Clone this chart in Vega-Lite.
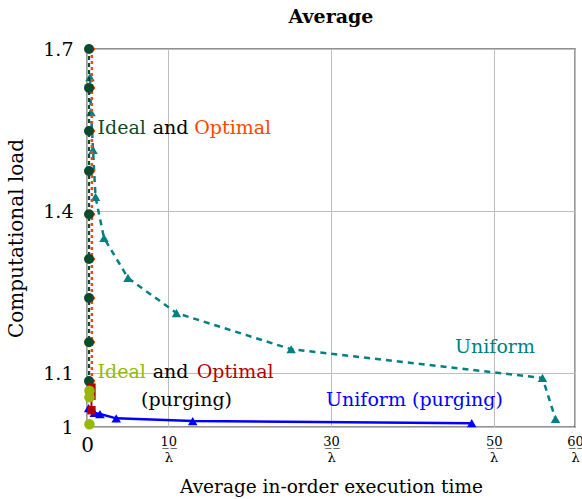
{
  "$schema": "https://vega.github.io/schema/vega-lite/v6.json",
  "width": 488,
  "height": 378,
  "autosize": {"type": "none"},
  "padding": {"left": 87, "top": 49, "right": 7, "bottom": 72},
  "config": {
    "font": "DejaVu Serif",
    "view": {"stroke": "#222222", "strokeWidth": 1.3},
    "axis": {"domain": false, "ticks": false, "grid": true, "gridColor": "#bdbdbd", "gridWidth": 1, "labelColor": "black", "titleColor": "black", "labelFont": "DejaVu Serif", "titleFont": "DejaVu Serif", "titleFontWeight": "normal"}
  },
  "title": {"text": "Average", "font": "DejaVu Serif", "fontSize": 19, "fontWeight": "bold", "color": "black", "offset": 13, "frame": "group", "anchor": "middle"},
  "datasets": {
    "pts": [
      {"s": "Ideal", "i": 1, "x": 0.25, "y": 1.7},
      {"s": "Ideal", "i": 2, "x": 0.25, "y": 1.628},
      {"s": "Ideal", "i": 3, "x": 0.25, "y": 1.548},
      {"s": "Ideal", "i": 4, "x": 0.25, "y": 1.474},
      {"s": "Ideal", "i": 5, "x": 0.25, "y": 1.394},
      {"s": "Ideal", "i": 6, "x": 0.25, "y": 1.311},
      {"s": "Ideal", "i": 7, "x": 0.25, "y": 1.239},
      {"s": "Ideal", "i": 8, "x": 0.25, "y": 1.157},
      {"s": "Ideal", "i": 9, "x": 0.25, "y": 1.085},
      {"s": "Optimal", "i": 1, "x": 0.6, "y": 1.7},
      {"s": "Optimal", "i": 2, "x": 0.6, "y": 1.628},
      {"s": "Optimal", "i": 3, "x": 0.6, "y": 1.548},
      {"s": "Optimal", "i": 4, "x": 0.6, "y": 1.474},
      {"s": "Optimal", "i": 5, "x": 0.6, "y": 1.394},
      {"s": "Optimal", "i": 6, "x": 0.6, "y": 1.311},
      {"s": "Optimal", "i": 7, "x": 0.6, "y": 1.239},
      {"s": "Optimal", "i": 8, "x": 0.6, "y": 1.157},
      {"s": "Optimal", "i": 9, "x": 0.6, "y": 1.085},
      {"s": "Uniform", "i": 1, "x": 0.37, "y": 1.648},
      {"s": "Uniform", "i": 2, "x": 0.49, "y": 1.583},
      {"s": "Uniform", "i": 3, "x": 0.74, "y": 1.513},
      {"s": "Uniform", "i": 4, "x": 1.05, "y": 1.426},
      {"s": "Uniform", "i": 5, "x": 2.09, "y": 1.35},
      {"s": "Uniform", "i": 6, "x": 5.04, "y": 1.276},
      {"s": "Uniform", "i": 7, "x": 11.0, "y": 1.211},
      {"s": "Uniform", "i": 8, "x": 25.1, "y": 1.144},
      {"s": "Uniform", "i": 9, "x": 56.0, "y": 1.091},
      {"s": "Uniform", "i": 10, "x": 57.6, "y": 1.015},
      {"s": "Ideal (purging)", "i": 1, "x": 0.3, "y": 1.067},
      {"s": "Ideal (purging)", "i": 2, "x": 0.3, "y": 1.055},
      {"s": "Ideal (purging)", "i": 3, "x": 0.3, "y": 1.005},
      {"s": "Optimal (purging)", "i": 1, "x": 0.55, "y": 1.073},
      {"s": "Optimal (purging)", "i": 2, "x": 0.55, "y": 1.058},
      {"s": "Optimal (purging)", "i": 3, "x": 0.55, "y": 1.031},
      {"s": "Uniform (purging)", "i": 1, "x": 0.2, "y": 1.035},
      {"s": "Uniform (purging)", "i": 2, "x": 0.9, "y": 1.026},
      {"s": "Uniform (purging)", "i": 3, "x": 1.6, "y": 1.024},
      {"s": "Uniform (purging)", "i": 4, "x": 3.6, "y": 1.016},
      {"s": "Uniform (purging)", "i": 5, "x": 13.0, "y": 1.011},
      {"s": "Uniform (purging)", "i": 6, "x": 47.3, "y": 1.007}
    ],
    "labels": [
      {"t": "Ideal", "g": "Ideal", "x": 1.3, "y": 1.554},
      {"t": "and", "g": "plain", "x": 8.08, "y": 1.554},
      {"t": "Optimal", "g": "Optimal", "x": 13.19, "y": 1.554},
      {"t": "Ideal", "g": "Ideal (purging)", "x": 1.3, "y": 1.102},
      {"t": "and", "g": "plain", "x": 8.08, "y": 1.102},
      {"t": "Optimal", "g": "Optimal (purging)", "x": 13.49, "y": 1.102},
      {"t": "(purging)", "g": "plain", "x": 6.64, "y": 1.05},
      {"t": "Uniform (purging)", "g": "Uniform (purging)", "x": 29.39, "y": 1.05},
      {"t": "Uniform", "g": "Uniform", "x": 45.25, "y": 1.148}
    ]
  },
  "encoding": {
    "x": {"field": "x", "type": "quantitative", "scale": {"domain": [0, 60], "nice": false, "zero": false},
      "axis": {"values": [0, 10, 30, 50, 60], "labelFlush": false, "title": "Average in-order execution time", "titleFontSize": 18.5, "titlePadding": 13, "labelPadding": 8, "labelLineHeight": 16, "labelBaseline": "top", "labelFontSize": {"condition": {"test": "datum.value == 0", "value": 20}, "value": 13},
        "labelExpr": "datum.value == 0 ? '0' : datum.value == 10 ? ['1\u03320\u0332', 'λ'] : datum.value == 30 ? ['3\u03320\u0332', 'λ'] : datum.value == 50 ? ['5\u03320\u0332', 'λ'] : ['6\u03320\u0332', 'λ']"}},
    "y": {"field": "y", "type": "quantitative", "scale": {"domain": [1, 1.7], "nice": false, "zero": false},
      "axis": {"values": [1, 1.1, 1.4, 1.7], "format": "~g", "title": "Computational load", "titleFontSize": 20, "titlePadding": 16, "labelFontSize": 19, "labelPadding": 14}},
    "color": {"field": "s", "type": "nominal", "legend": null,
      "scale": {"domain": ["Ideal", "Optimal", "Uniform", "Ideal (purging)", "Optimal (purging)", "Uniform (purging)", "plain"],
        "range": ["#0b4a2b", "#ff4500", "#008080", "#95b80b", "#b00000", "#0000ff", "#000000"]}}
  },
  "layer": [
    {"transform": [{"filter": "datum.s == 'Uniform'"}], "data": {"name": "pts"}, "mark": {"type": "line", "strokeDash": [6, 5], "strokeWidth": 2.5, "clip": false}, "encoding": {"order": {"field": "i"}}},
    {"transform": [{"filter": "datum.s == 'Uniform'"}], "data": {"name": "pts"}, "mark": {"type": "point", "shape": "triangle-up", "filled": true, "size": 90, "opacity": 1, "clip": false}},
    {"transform": [{"filter": "datum.s == 'Uniform (purging)'"}], "data": {"name": "pts"}, "mark": {"type": "line", "strokeWidth": 2.5, "clip": false}, "encoding": {"order": {"field": "i"}}},
    {"transform": [{"filter": "datum.s == 'Uniform (purging)'"}], "data": {"name": "pts"}, "mark": {"type": "point", "shape": "triangle-up", "filled": true, "size": 90, "opacity": 1, "clip": false}},
    {"transform": [{"filter": "datum.s == 'Optimal'"}], "data": {"name": "pts"}, "mark": {"type": "line", "strokeDash": [3, 3], "strokeWidth": 2.5, "clip": false}, "encoding": {"order": {"field": "i"}}},
    {"transform": [{"filter": "datum.s == 'Optimal'"}], "data": {"name": "pts"}, "mark": {"type": "point", "shape": "cross", "filled": true, "size": 40, "opacity": 1, "clip": false}},
    {"transform": [{"filter": "datum.s == 'Ideal'"}], "data": {"name": "pts"}, "mark": {"type": "line", "strokeDash": [4, 3], "strokeWidth": 2.2, "clip": false}, "encoding": {"order": {"field": "i"}}},
    {"transform": [{"filter": "datum.s == 'Ideal'"}], "data": {"name": "pts"}, "mark": {"type": "point", "shape": "circle", "filled": true, "size": 100, "opacity": 1, "clip": false}},
    {"transform": [{"filter": "datum.s == 'Optimal (purging)'"}], "data": {"name": "pts"}, "mark": {"type": "line", "strokeWidth": 2, "clip": false}, "encoding": {"order": {"field": "i"}}},
    {"transform": [{"filter": "datum.s == 'Optimal (purging)'"}], "data": {"name": "pts"}, "mark": {"type": "point", "shape": "square", "filled": true, "size": 70, "opacity": 1, "clip": false}},
    {"transform": [{"filter": "datum.s == 'Ideal (purging)'"}], "data": {"name": "pts"}, "mark": {"type": "point", "shape": "circle", "filled": true, "size": 110, "opacity": 1, "clip": false}},
    {"data": {"name": "labels"}, "mark": {"type": "text", "align": "left", "baseline": "middle", "fontSize": 19, "font": "DejaVu Serif", "clip": false},
      "encoding": {"text": {"field": "t"}, "color": {"field": "g", "type": "nominal", "legend": null}}}
  ]
}
